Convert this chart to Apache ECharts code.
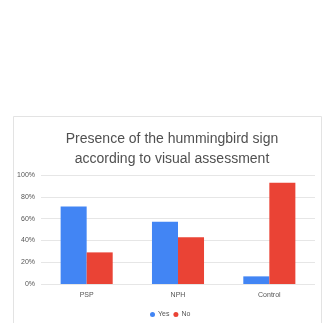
<!DOCTYPE html>
<html><head><meta charset="utf-8">
<script src="https://cdn.jsdelivr.net/npm/echarts@6/dist/echarts.min.js"></script>
<style>html,body{margin:0;padding:0;background:#fff}#c{width:322px;height:323px}</style>
</head><body><div id="c"></div>
<script>
const categories = ['PSP', 'NPH', 'Control'];
const yesValues = [71, 57, 7];
const noValues = [29, 43, 93];
const yTicks = [0, 20, 40, 60, 80, 100];

const chart = echarts.init(document.getElementById('c'), null, {renderer: 'canvas'});
chart.setOption({
  animation: false,
  backgroundColor: '#fff',
  graphic: [{
    type: 'rect', left: 11, top: 114, shape: {width: 308, height: 220},
    style: {fill: 'none', stroke: '#e3e3e3', lineWidth: 1}, silent: true
  }],
  title: {
    text: 'Presence of the hummingbird sign\naccording to visual assessment',
    left: 167, textAlign: 'center', top: 124,
    textStyle: {fontFamily: 'Liberation Sans, Arial', fontSize: 14, fontWeight: 'normal', color: '#505050', lineHeight: 20}
  },
  legend: {
    data: ['Yes', 'No'], bottom: 5, left: 150, padding: 0, icon: 'circle', itemWidth: 5, itemHeight: 5, itemGap: 4,
    textStyle: {fontSize: 7, color: '#555', padding: [0, 0, 0, -2]}
  },
  grid: {left: 41, right: 7, top: 175, bottom: 39, containLabel: false},
  xAxis: {
    type: 'category', data: categories,
    axisLine: {show: false}, axisTick: {show: false},
    axisLabel: {fontSize: 7, color: '#555', margin: 8}
  },
  yAxis: {
    type: 'value', min: 0, max: 100, interval: 20,
    axisLine: {show: false}, axisTick: {show: false},
    axisLabel: {fontSize: 7, color: '#555', margin: 6, formatter: v => yTicks.includes(v) ? v + '%' : ''},
    splitLine: {lineStyle: {color: '#e6e6e6', width: 1}}
  },
  series: [
    {name: 'Yes', type: 'bar', data: yesValues, itemStyle: {color: '#4285F4'}, barGap: '0%', barCategoryGap: '43%'},
    {name: 'No', type: 'bar', data: noValues, itemStyle: {color: '#EA4335'}}
  ]
});
</script></body></html>
